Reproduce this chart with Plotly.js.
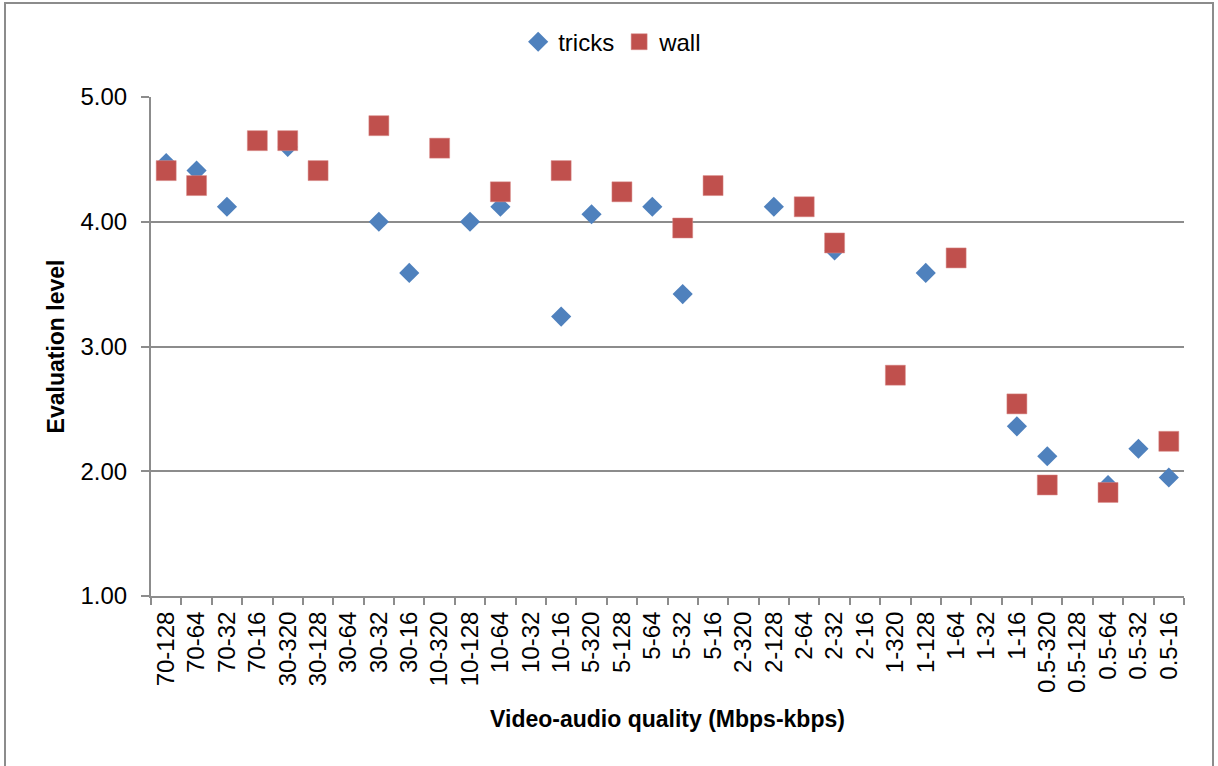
<!DOCTYPE html>
<html lang="en">
<head>
    <meta charset="UTF-8">
    <title>Evaluation level by video-audio quality</title>
    <script src="https://cdn.plot.ly/plotly-3.0.1.min.js"></script>
    <style>
        body {
            margin: 0;
            padding: 0;
            background-color: white;
            overflow: hidden;
        }
        #plot {
            position: absolute;
            left: 0;
            top: 0;
            width: 1218px;
            height: 766px;
        }
        #frame {
            position: absolute;
            left: 4px;
            top: 2px;
            width: 1206px;
            height: 780px;
            border: 2px solid #8c8c8c;
            pointer-events: none;
        }
    </style>
</head>
<body>
    <div id="plot"></div>
    <div id="frame"></div>

    <script>
        // Video bitrate (Mbps) - audio bitrate (kbps)
        const categories = [
            '70-128', '70-64', '70-32', '70-16',
            '30-320', '30-128', '30-64', '30-32', '30-16',
            '10-320', '10-128', '10-64', '10-32', '10-16',
            '5-320', '5-128', '5-64', '5-32', '5-16',
            '2-320', '2-128', '2-64', '2-32', '2-16',
            '1-320', '1-128', '1-64', '1-32', '1-16',
            '0.5-320', '0.5-128', '0.5-64', '0.5-32', '0.5-16'
        ];

        const tricks = [
            4.47, 4.41, 4.12, null,
            4.60, null, null, 4.00, 3.59,
            null, 4.00, 4.12, null, 3.24,
            4.06, null, 4.12, 3.42, null,
            null, 4.12, null, 3.77, null,
            null, 3.59, null, null, 2.36,
            2.12, null, 1.89, 2.18, 1.95
        ];

        const wall = [
            4.41, 4.29, null, 4.65,
            4.65, 4.41, null, 4.77, null,
            4.59, null, 4.24, null, 4.41,
            null, 4.24, null, 3.95, 4.29,
            null, null, 4.12, 3.83, null,
            2.77, null, 3.71, null, 2.54,
            1.89, null, 1.83, null, 2.24
        ];

        const yTicks = [1, 2, 3, 4, 5];
        const yTickText = ['1.00', '2.00', '3.00', '4.00', '5.00'];

        const font = 'Liberation Sans, Arial, sans-serif';

        const traces = [
            {
                x: categories,
                y: tricks,
                type: 'scatter',
                mode: 'markers',
                name: 'tricks',
                marker: { symbol: 'diamond', size: 15.5, color: '#4F81BD' }
            },
            {
                x: categories,
                y: wall,
                type: 'scatter',
                mode: 'markers',
                name: 'wall',
                marker: {
                    symbol: 'square',
                    size: 20,
                    color: '#C0504D',
                    line: { color: '#d88a88', width: 0.5 }
                }
            }
        ];

        const layout = {
            width: 1218,
            height: 766,
            margin: { l: 151, r: 34, t: 97, b: 170 },
            paper_bgcolor: 'rgba(0,0,0,0)',
            plot_bgcolor: 'white',
            font: { family: font, size: 24, color: '#000' },
            showlegend: true,
            legend: {
                orientation: 'h',
                x: 0.503,
                xanchor: 'center',
                xref: 'container',
                y: 0.945,
                yanchor: 'middle',
                yref: 'container',
                font: { family: font, size: 24 },
                itemwidth: 30,
                tracegroupgap: 0
            },
            xaxis: {
                type: 'category',
                categoryorder: 'array',
                categoryarray: categories,
                range: [-0.5, categories.length - 0.5],
                tickangle: -90,
                tickson: 'boundaries',
                ticks: 'outside',
                ticklen: 7,
                tickwidth: 2,
                tickcolor: '#8c8c8c',
                ticklabelstandoff: 4,
                showgrid: false,
                showline: true,
                linecolor: '#8c8c8c',
                linewidth: 2,
                tickfont: { family: font, size: 24 },
                title: {
                    text: 'Video-audio quality (Mbps-kbps)',
                    font: { family: font, size: 23, weight: 'bold' },
                    standoff: 19
                },
                fixedrange: true
            },
            yaxis: {
                range: [1, 5],
                tickvals: yTicks,
                ticktext: yTickText,
                ticks: 'outside',
                ticklen: 8,
                tickwidth: 2,
                tickcolor: '#8c8c8c',
                ticklabelstandoff: 9,
                showgrid: true,
                gridcolor: '#8c8c8c',
                gridwidth: 2,
                zeroline: false,
                showline: true,
                linecolor: '#8c8c8c',
                linewidth: 2,
                tickfont: { family: font, size: 24 },
                title: {
                    text: 'Evaluation level',
                    font: { family: font, size: 23, weight: 'bold' },
                    standoff: 9
                },
                fixedrange: true
            }
        };

        Plotly.newPlot('plot', traces, layout, { displayModeBar: false, staticPlot: true });
    </script>
</body>
</html>
